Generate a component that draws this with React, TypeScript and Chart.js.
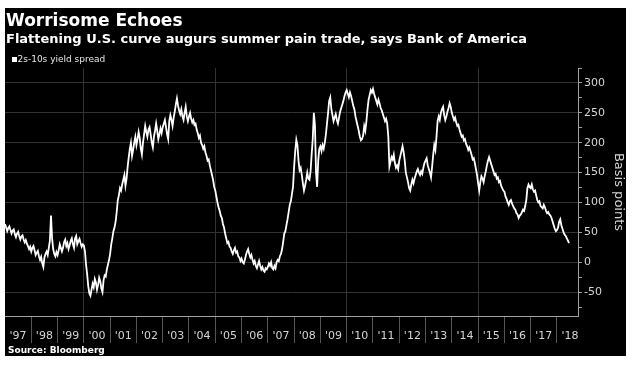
import React, { useEffect, useRef } from 'react';
import { Chart, registerables } from 'chart.js';

Chart.register(...registerables);

const TITLE = 'Worrisome Echoes';
const SUBTITLE = 'Flattening U.S. curve augurs summer pain trade, says Bank of America';
const SERIES_LABEL = '2s-10s yield spread';
const SOURCE = 'Source: Bloomberg';
const Y_TITLE = 'Basis points';

const START_YEAR = 1997;
const POINTS_PER_YEAR = 24; // twice a month
const X_MIN = 1997;
const X_MAX = 2018.8;
const yearTicks = [1997, 1998, 1999, 2000, 2001, 2002, 2003, 2004, 2005, 2006, 2007, 2008, 2009, 2010, 2011, 2012, 2013, 2014, 2015, 2016, 2017, 2018];
const yearLabels = ["'97", "'98", "'99", "'00", "'01", "'02", "'03", "'04", "'05", "'06", "'07", "'08", "'09", "'10", "'11", "'12", "'13", "'14", "'15", "'16", "'17", "'18"];
const yTickValues = [-75, -50, -25, 0, 25, 50, 75, 100, 125, 150, 175, 200, 225, 250, 275, 300, 325];
const Y_MIN = -90;
const Y_MAX = 325;

// Twice-monthly 2s-10s spread (bp), one row per year
const spread1997to2001 = [
  64, 58, 52, 57, 60, 54, 48, 53, 55, 47, 42, 48, 51, 44, 38, 43, 45, 38, 33, 37, 31, 27, 22, 26,
  18, 24, 27, 20, 12, 16, 19, 10, 4, 9, -2, -8, 8, 14, 18, 12, 24, 36, 78, 40, 22, 14, 10, 17,
  12, 20, 30, 24, 18, 24, 34, 38, 27, 32, 22, 28, 36, 40, 30, 24, 40, 44, 30, 35, 39, 32, 26, 30,
  28, 18, -4, -20, -40, -52, -56, -46, -36, -42, -28, -34, -46, -38, -26, -32, -44, -50, -30, -22, -24, -12, -4, 4,
  14, 30, 40, 52, 58, 68, 84, 104, 112, 124, 120, 130, 138, 146, 128, 140, 160, 176, 190, 200, 178, 188, 200, 210,
];
const spread2002to2006 = [
  196, 206, 218, 208, 190, 180, 200, 214, 228, 218, 210, 222, 226, 214, 200, 192, 210, 220, 232, 220, 206, 214, 224, 216,
  226, 232, 238, 226, 214, 206, 236, 246, 238, 228, 242, 252, 264, 274, 262, 254, 248, 256, 244, 238, 250, 260, 244, 236,
  244, 250, 240, 234, 238, 230, 232, 222, 216, 208, 212, 200, 196, 190, 194, 184, 178, 170, 172, 162, 154, 146, 138, 126,
  120, 110, 100, 92, 86, 78, 74, 64, 58, 48, 40, 32, 34, 26, 24, 18, 14, 20, 24, 16, 18, 10, 8, 2,
  6, 0, -2, 4, 12, 18, 22, 14, 8, 12, 4, -2, 2, -6, -10, -4, 2, -6, -12, -8, -14, -16, -10, -12,
];
const spread2007to2011 = [
  -8, -2, -6, 0, -10, -12, -6, -10, 0, 4, 2, 10, 14, 22, 34, 48, 52, 62, 72, 84, 96, 102, 114, 126,
  160, 186, 205, 196, 170, 154, 158, 146, 132, 120, 128, 138, 150, 140, 138, 152, 180, 206, 250, 230, 150, 126, 170, 190,
  194, 186, 196, 190, 200, 214, 232, 250, 270, 276, 256, 246, 236, 242, 248, 238, 232, 242, 252, 258, 264, 270, 278, 284,
  288, 282, 276, 284, 278, 270, 262, 256, 244, 236, 228, 220, 210, 204, 206, 212, 228, 220, 236, 256, 272, 280, 288, 284,
  290, 282, 276, 270, 264, 272, 266, 258, 254, 248, 242, 236, 240, 232, 210, 160, 168, 176, 172, 180, 166, 158, 162, 156,
];
const spread2012to2018 = [
  170, 178, 186, 194, 184, 170, 150, 142, 134, 124, 120, 130, 138, 132, 140, 146, 152, 156, 150, 146, 152, 148, 158, 166,
  170, 174, 162, 156, 150, 142, 160, 180, 196, 188, 210, 236, 244, 238, 250, 256, 260, 246, 238, 244, 252, 258, 266, 260,
  250, 244, 238, 242, 234, 228, 230, 222, 216, 210, 212, 204, 206, 198, 194, 188, 192, 186, 180, 172, 174, 166, 156, 146,
  132, 120, 134, 144, 140, 134, 144, 152, 162, 170, 176, 170, 164, 158, 152, 146, 148, 140, 142, 134, 136, 128, 124, 120,
  118, 110, 106, 100, 96, 102, 104, 98, 94, 90, 88, 82, 80, 74, 78, 80, 84, 88, 86, 94, 104, 124, 130, 126,
  124, 130, 122, 118, 120, 112, 104, 100, 102, 94, 92, 90, 96, 92, 86, 82, 84, 80, 78, 74, 68, 62, 56, 52,
  54, 58, 68, 72, 62, 56, 50, 46, 44, 40, 36, 32,
];

const FONT = '"DejaVu Sans", sans-serif';

const textPlugin = {
  id: 'headerFooter',
  afterDraw(chart: any) {
    const ctx = chart.ctx as CanvasRenderingContext2D;
    ctx.save();
    ctx.textAlign = 'left';
    ctx.textBaseline = 'alphabetic';
    ctx.fillStyle = '#ffffff';
    ctx.font = `bold 17px ${FONT}`;
    ctx.fillText(TITLE, 1, 18);
    ctx.font = `bold 13px ${FONT}`;
    ctx.fillText(SUBTITLE, 1, 35);
    ctx.fillRect(7, 49, 5, 5);
    ctx.fillStyle = '#e6e6e6';
    ctx.font = `9px ${FONT}`;
    ctx.fillText(SERIES_LABEL, 12.5, 54);
    ctx.fillStyle = '#ffffff';
    ctx.font = `bold 9px ${FONT}`;
    ctx.fillText(SOURCE, 3, 345);
    ctx.restore();
  },
};

export default function App() {
  const ref = useRef<HTMLCanvasElement>(null);
  useEffect(() => {
    const canvas = ref.current;
    if (!canvas) return;
    const series = [...spread1997to2001, ...spread2002to2006, ...spread2007to2011, ...spread2012to2018];
    const points = series.map((v, i) => ({ x: START_YEAR + i / POINTS_PER_YEAR, y: v }));
    const chart = new Chart(canvas, {
      type: 'line',
      data: {
        datasets: [
          {
            label: SERIES_LABEL,
            data: points,
            borderColor: '#ffffff',
            borderWidth: 1.8,
            pointRadius: 0,
            tension: 0,
            fill: false,
          },
        ],
      },
      options: {
        animation: false,
        responsive: false,
        maintainAspectRatio: false,
        devicePixelRatio: 1,
        layout: { padding: { top: 60, left: 0, right: 0, bottom: 0 } },
        plugins: {
          legend: { display: false },
          tooltip: { enabled: false },
          title: { display: false },
        },
        scales: {
          x: {
            type: 'linear',
            min: X_MIN,
            max: X_MAX,
            afterBuildTicks: (s: any) => {
              s.ticks = yearTicks.map((v) => ({ value: v }));
            },
            afterFit: (s: any) => {
              s.height = 40;
            },
            grid: {
              color: (c: any) => (c.tick && c.tick.value % 5 === 0 ? '#333333' : 'rgba(0,0,0,0)'),
              tickColor: (c: any) => (c.tick && c.tick.value === X_MIN ? 'rgba(0,0,0,0)' : '#555555'),
              tickLength: 27,
              lineWidth: 1,
            },
            border: { display: true, color: '#a0a0a0', width: 1 },
            ticks: {
              autoSkip: false,
              maxRotation: 0,
              minRotation: 0,
              labelOffset: 13.1,
              padding: -13,
              color: '#d4d4d4',
              font: { family: FONT, size: 11 },
              callback: (_v: any, i: number) => yearLabels[i],
            },
          },
          y: {
            type: 'linear',
            position: 'right',
            min: Y_MIN,
            max: Y_MAX,
            afterBuildTicks: (s: any) => {
              s.ticks = yTickValues.map((v) => ({ value: v }));
            },
            afterFit: (s: any) => {
              s.width = 48;
            },
            grid: {
              color: (c: any) => (c.tick && c.tick.value % 50 === 0 ? '#333333' : 'rgba(0,0,0,0)'),
              tickColor: '#a0a0a0',
              tickLength: 4,
            },
            border: { display: true, color: '#a0a0a0', width: 1 },
            ticks: {
              autoSkip: false,
              padding: 2,
              color: '#d4d4d4',
              font: { family: FONT, size: 11 },
              callback: (v: any) => (Number(v) % 50 === 0 ? String(v) : ''),
            },
            title: {
              display: true,
              text: Y_TITLE,
              color: '#d4d4d4',
              font: { family: FONT, size: 13 },
              padding: 0,
            },
          },
        },
      },
      plugins: [textPlugin],
    });
    return () => chart.destroy();
  }, []);
  return (
    <div style={{ position: 'absolute', left: 5, top: 8, width: 621, height: 348, background: '#000000' }}>
      <canvas ref={ref} width={621} height={348} style={{ display: 'block', width: 621, height: 348 }} />
    </div>
  );
}
